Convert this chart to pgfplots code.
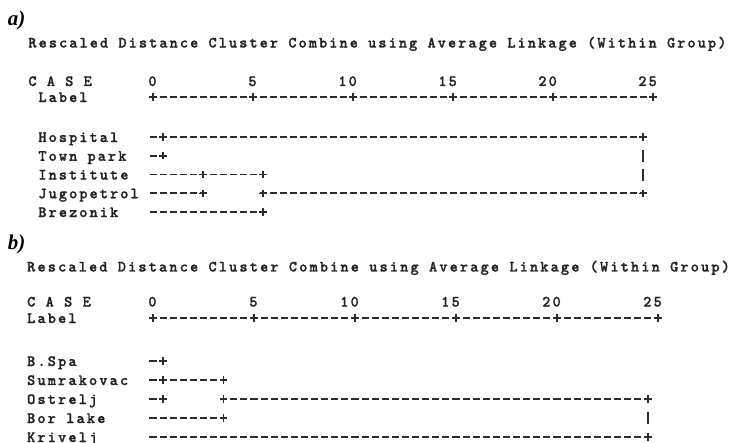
\documentclass[border=0pt]{standalone}
\usepackage{fontspec}
\usepackage{pgfplots}
\pgfplotsset{compat=1.18}
\newfontfamily\spssa{lmmonolt10-bold.otf}[LetterSpace=13.1, FakeBold=1.2]
\newfontfamily\spssb{lmmonolt10-bold.otf}[LetterSpace=13.6, FakeBold=1.2]
\newfontfamily\lserif{Liberation Serif}
\definecolor{ink}{HTML}{222222}
\definecolor{dash}{HTML}{2C2C2C}
\begin{document}
\begin{tikzpicture}
\useasboundingbox (0,0) rectangle (366pt,221.5pt);
\pgfplotsset{
  dendro/.style={hide axis, clip=false, scale only axis, width=366pt, height=110.75pt, y dir=reverse},
  seg/.style={draw=dash, line width=0.8pt, shorten <=-2.5pt, shorten >=-2.5pt, dash pattern=on 3.5pt off 1.5pt, dash phase=4.25pt, mark=none},
  segb/.style={draw=dash, line width=0.8pt, shorten <=-2.525pt, shorten >=-2.525pt, dash pattern=on 3.55pt off 1.5pt, dash phase=4.3pt, mark=none},
  plus/.style={only marks, mark=+, mark size=1.85pt, mark options={solid, draw=dash, line width=0.75pt}},
  vbar/.style={only marks, mark=|, mark size=3pt, mark options={solid, draw=dash, line width=0.7pt}},
}
\tikzset{
  txt/.style={font=\spssa\fontsize{7.8pt}{8pt}\selectfont, text=ink, inner sep=0pt, anchor=base west},
  txtb/.style={font=\spssb\fontsize{7.8pt}{8pt}\selectfont, text=ink, inner sep=0pt, anchor=base west},
  lab/.style={font=\lserif\bfseries\itshape\fontsize{10.5pt}{12pt}\selectfont, text=black, inner sep=0pt, anchor=base west},
}
% ---------------- panel a ----------------
\begin{axis}[dendro, at={(0pt,221.5pt)}, anchor=north west,
  xmin=-7.65, xmax=28.95, ymin=-6.307, ymax=5.507]
\node[lab] at (axis cs:-7.275,-4.973) {a)};
\node[txt] at (axis cs:-6.25,-3.773) {Rescaled Distance Cluster Combine using Average Linkage (Within Group)};
\node[txt] at (axis cs:-6.25,-1.72) {C A S E};
\node[txt] at (axis cs:-0.25,-1.72) {0};
\node[txt] at (axis cs:4.75,-1.72) {5};
\node[txt] at (axis cs:9.25,-1.72) {10};
\node[txt] at (axis cs:14.25,-1.72) {15};
\node[txt] at (axis cs:19.25,-1.72) {20};
\node[txt] at (axis cs:24.25,-1.72) {25};
\node[txt, yshift=-2.5pt] at (axis cs:-5.75,-1.133) {Label};
% scale line
\addplot[seg] coordinates {(0,-1.133) (25,-1.133)};
\addplot[plus] coordinates {(0,-1.133) (5,-1.133) (10,-1.133) (15,-1.133) (20,-1.133) (25,-1.133)};
% case labels
\node[txt, yshift=-2.5pt] at (axis cs:-5.75,1) {Hospital};
\node[txt, yshift=-2.5pt] at (axis cs:-5.75,2) {Town park};
\node[txt, yshift=-2.5pt] at (axis cs:-5.75,3) {Institute};
\node[txt, yshift=-2.5pt] at (axis cs:-5.75,4) {Jugopetrol};
\node[txt, yshift=-2.5pt] at (axis cs:-5.75,5) {Brezonik};
% dendrogram
\addplot[seg] coordinates {(0,1) (24.5,1)};
\addplot[seg] coordinates {(0,2) (0.5,2)};
\addplot[seg] coordinates {(0,3) (5.5,3)};
\addplot[seg] coordinates {(0,4) (2.5,4)};
\addplot[seg] coordinates {(5.5,4) (24.5,4)};
\addplot[seg] coordinates {(0,5) (5.5,5)};
\addplot[plus] coordinates {(0.5,1) (24.5,1) (0.5,2) (2.5,3) (5.5,3) (2.5,4) (5.5,4) (24.5,4) (5.5,5)};
\addplot[vbar] coordinates {(24.5,2) (24.5,3)};
\end{axis}
% ---------------- panel b ----------------
\begin{axis}[dendro, at={(0pt,110.75pt)}, anchor=north west,
  xmin=-7.574, xmax=28.663, ymin=-6.342, ymax=5.316]
\node[lab] at (axis cs:-7.2,-4.842) {b)};
\node[txtb] at (axis cs:-6.25,-3.711) {Rescaled Distance Cluster Combine using Average Linkage (Within Group)};
\node[txtb] at (axis cs:-6.25,-1.868) {C A S E};
\node[txtb] at (axis cs:-0.25,-1.868) {0};
\node[txtb] at (axis cs:4.75,-1.868) {5};
\node[txtb] at (axis cs:9.25,-1.868) {10};
\node[txtb] at (axis cs:14.25,-1.868) {15};
\node[txtb] at (axis cs:19.25,-1.868) {20};
\node[txtb] at (axis cs:24.25,-1.868) {25};
\node[txtb, yshift=-2.5pt] at (axis cs:-6.25,-1.263) {Label};
\addplot[segb] coordinates {(0,-1.263) (25,-1.263)};
\addplot[plus] coordinates {(0,-1.263) (5,-1.263) (10,-1.263) (15,-1.263) (20,-1.263) (25,-1.263)};
\node[txtb, yshift=-2.5pt] at (axis cs:-6.25,1) {B.Spa};
\node[txtb, yshift=-2.5pt] at (axis cs:-6.25,2) {Sumrakovac};
\node[txtb, yshift=-2.5pt] at (axis cs:-6.25,3) {Ostrelj};
\node[txtb, yshift=-2.5pt] at (axis cs:-6.25,4) {Bor lake};
\node[txtb, yshift=-2.5pt] at (axis cs:-6.25,5) {Krivelj};
\addplot[segb] coordinates {(0,1) (0.5,1)};
\addplot[segb] coordinates {(0,2) (3.5,2)};
\addplot[segb] coordinates {(0,3) (0.5,3)};
\addplot[segb] coordinates {(3.5,3) (24.5,3)};
\addplot[segb] coordinates {(0,4) (3.5,4)};
\addplot[segb] coordinates {(0,5) (24.5,5)};
\addplot[plus] coordinates {(0.5,1) (0.5,2) (3.5,2) (0.5,3) (3.5,3) (24.5,3) (3.5,4) (24.5,5)};
\addplot[vbar] coordinates {(24.5,4)};
\end{axis}
\end{tikzpicture}
\end{document}
